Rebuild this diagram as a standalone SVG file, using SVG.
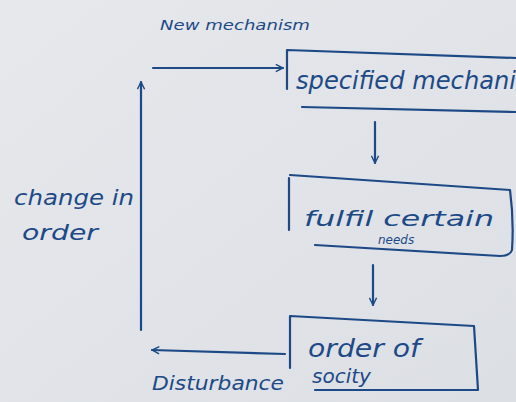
<svg xmlns="http://www.w3.org/2000/svg" width="516" height="402" viewBox="0 0 516 402">
<defs>
<linearGradient id="bg" x1="0" y1="0" x2="1" y2="1">
<stop offset="0" stop-color="#e6e8ec"/>
<stop offset="1" stop-color="#dcdfe4"/>
</linearGradient>
<marker id="ah" viewBox="0 0 10 10" refX="9" refY="5" markerWidth="9" markerHeight="9" orient="auto" markerUnits="userSpaceOnUse">
<path d="M1,1 L9,5 L1,9" fill="none" stroke="#1d4a86" stroke-width="1.6"/>
</marker>
</defs>
<style>
.ink{fill:none;stroke:#1d4a86;stroke-width:2.2;stroke-linecap:round;stroke-linejoin:round}
.t{fill:#1d4a86;font-family:"DejaVu Sans","Liberation Sans",sans-serif;font-style:italic}
</style>
<rect width="516" height="402" fill="url(#bg)"/>
<g id="node-specified">
<path class="ink" d="M287,50 L287,89 M287,50 L516,58 M302,107 L516,112"/>
<text class="t" x="296" y="89" font-size="24" textLength="220" lengthAdjust="spacingAndGlyphs">specified mechani</text>
</g>
<g id="node-fulfil">
<path class="ink" d="M289,178 L289,230 M290,175 L510,190 Q514,220 512,250 Q510,256 500,256 L315,245"/>
<text class="t" x="304" y="226" font-size="22" textLength="190" lengthAdjust="spacingAndGlyphs">fulfil certain</text>
<text class="t" x="378" y="244" font-size="12">needs</text>
</g>
<g id="node-order">
<path class="ink" d="M290,316 L290,368 M290,316 L474,326 L478,390 L315,390"/>
<text class="t" x="308" y="357" font-size="24" textLength="112" lengthAdjust="spacingAndGlyphs">order of</text>
<text class="t" x="312" y="383" font-size="20">socity</text>
</g>
<g id="labels">
<text class="t" x="160" y="30" font-size="14" textLength="150" lengthAdjust="spacingAndGlyphs">New mechanism</text>
<text class="t" x="152" y="390" font-size="19" textLength="132" lengthAdjust="spacingAndGlyphs">Disturbance</text>
<text class="t" x="14" y="205" font-size="21" textLength="120" lengthAdjust="spacingAndGlyphs">change in</text>
<text class="t" x="22" y="240" font-size="21" textLength="76" lengthAdjust="spacingAndGlyphs">order</text>
</g>
<g id="connectors">
<path class="ink" d="M153,68 L283,68" marker-end="url(#ah)"/>
<path class="ink" d="M375,122 L375,163" marker-end="url(#ah)"/>
<path class="ink" d="M373,265 L373,305" marker-end="url(#ah)"/>
<path class="ink" d="M285,354 L152,350" marker-end="url(#ah)"/>
<path class="ink" d="M141,330 L141,82" marker-end="url(#ah)"/>
</g>
</svg>
